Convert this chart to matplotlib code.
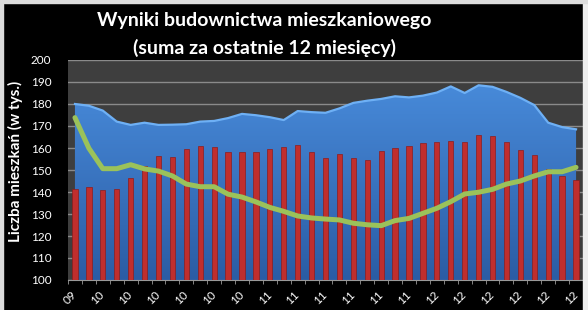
import numpy as np
import matplotlib
matplotlib.use("Agg")
import matplotlib.pyplot as plt
from matplotlib.colors import LinearSegmentedColormap
from matplotlib.patches import Rectangle

# dane: XII 2009 - XII 2012 (37 miesiecy)
x_labels = ['09'] + ['10'] * 6 + ['11'] * 6 + ['12'] * 6

area_vals = [180.0, 179.2, 177.0, 172.0, 170.5, 171.5, 170.5, 170.6, 170.8, 172.0,
             172.3, 173.6, 175.5, 174.9, 174.0, 172.7, 176.8, 176.3, 176.0, 178.0,
             180.5, 181.5, 182.3, 183.5, 183.0, 183.8, 185.2, 188.0, 185.0, 188.5,
             187.8, 185.5, 182.8, 179.5, 171.5, 169.5, 168.5]

bar_vals = [141.2, 142.4, 141.0, 141.5, 146.4, 151.7, 156.5, 155.9, 159.5, 160.8,
            160.6, 158.2, 158.3, 158.0, 159.7, 160.5, 161.5, 158.0, 155.5, 157.1,
            155.5, 154.5, 158.6, 159.9, 160.9, 162.1, 162.6, 163.0, 162.6, 166.0,
            165.3, 162.7, 159.1, 157.0, 150.6, 147.3, 145.3]

line_vals = [173.8, 159.9, 150.6, 150.6, 152.4, 150.5, 149.5, 147.3, 143.6, 142.4,
             142.4, 139.0, 137.7, 135.5, 133.0, 131.2, 129.1, 128.2, 127.7, 127.3,
             125.8, 125.1, 124.7, 127.0, 128.0, 130.3, 132.6, 135.6, 139.1, 139.9,
             141.2, 143.6, 145.0, 147.3, 149.2, 149.2, 151.2]

x = np.arange(len(bar_vals))

fig = plt.figure(figsize=(5.88, 3.10), dpi=100, facecolor='black')
ax = fig.add_axes([68 / 588, 1 - 280 / 310, (583 - 68) / 588, 220 / 310])
ax.set_facecolor('#3e3e3e')

# obszar (gradient)
poly = ax.fill_between(x, 0, area_vals, color='#3a78c8', lw=0, zorder=1)
cmap = LinearSegmentedColormap.from_list('blu', ['#2b5ca4', '#4b90e0'])
grad = np.linspace(0, 1, 256).reshape(-1, 1)
im = ax.imshow(grad, extent=[-0.5, len(x) - 0.5, 100, 200], origin='lower',
               aspect='auto', cmap=cmap, zorder=1.5)
im.set_clip_path(poly.get_paths()[0], ax.transData)
ax.plot(x, area_vals, color='#6eb0f5', lw=1.6, zorder=2)

# slupki
ax.bar(x, bar_vals, width=0.38, color='#c02e2d', edgecolor='#8e1c1c', lw=0.5, zorder=3)

# linia
ax.plot(x, line_vals, color='#9bc25a', lw=3.6, solid_capstyle='round', zorder=4)

ax.set_xlim(-0.5, len(x) - 0.5)
ax.set_ylim(100, 200)
ax.set_yticks(np.arange(100, 201, 10))
ax.yaxis.grid(True, color='#8a8a8a', lw=1)
ax.set_axisbelow(True)
for s in ax.spines.values():
    s.set_visible(False)
ax.spines['bottom'].set_visible(True)
ax.spines['bottom'].set_color('#9a9a9a')

ax.set_xticks(np.arange(-0.5, len(x), 1), minor=True)
ax.set_xticks(x[::2])
ax.set_xticklabels(x_labels, rotation=45, ha='right', va='center',
                   rotation_mode='anchor', color='white', fontsize=8.5, family='Lato')
ax.tick_params(axis='x', which='major', length=0, pad=9)
ax.tick_params(axis='x', which='minor', length=3, color='#9a9a9a')
ax.tick_params(axis='y', length=0, pad=12, labelcolor='white', labelsize=8.5)
for t in ax.get_yticklabels():
    t.set_family('Lato')

fig.text(0.45, 0.935, 'Wyniki budownictwa mieszkaniowego', color='white',
         fontsize=14, fontweight='bold', family='Lato', ha='center', va='center')
fig.text(0.45, 0.845, '(suma za ostatnie 12 miesięcy)', color='white',
         fontsize=14, fontweight='bold', family='Lato', ha='center', va='center')
fig.text(15 / 588, 1 - 161 / 310, 'Liczba mieszkań (w tys.)', color='white',
         fontsize=11, fontweight='bold', family='Lato', rotation=90,
         ha='center', va='center')

# jasna ramka obrazu
fig.patches.append(Rectangle((583 / 588, 0), 5 / 588, 1, transform=fig.transFigure,
                             color='#eeeeee', zorder=10))
fig.patches.append(Rectangle((0, 0), 3 / 588, 1, transform=fig.transFigure,
                             color='#dddddd', zorder=10))
fig.patches.append(Rectangle((0, 1 - 3 / 310), 1, 3 / 310, transform=fig.transFigure,
                             color='#dddddd', zorder=10))

fig.savefig('out.png', dpi=100, facecolor='black')
